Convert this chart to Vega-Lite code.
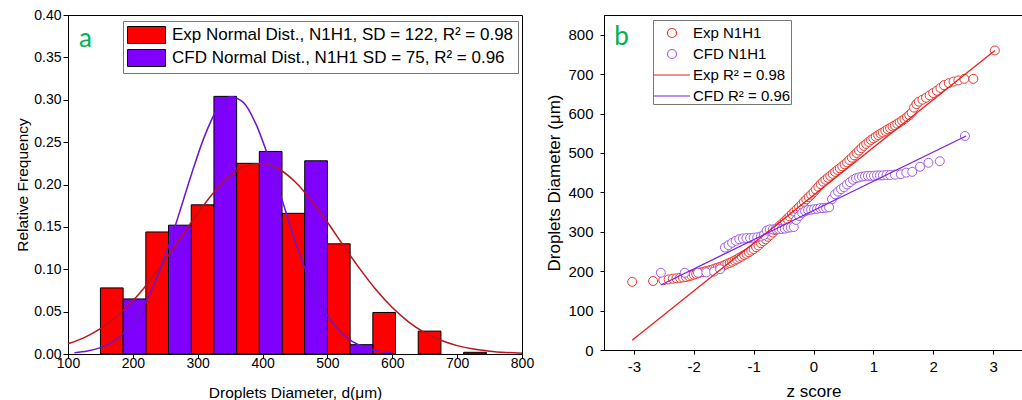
{
  "$schema": "https://vega.github.io/schema/vega-lite/v6.json",
  "background": "white",
  "padding": {"left": 15, "top": 7, "right": 3, "bottom": 0},
  "bounds": "full",
  "spacing": 10,
  "config": {
    "font": "Liberation Sans",
    "view": {"stroke": "black", "strokeWidth": 1},
    "scale": {"continuousPadding": 0},
    "axis": {
      "domainColor": "black", "tickColor": "black", "labelColor": "black", "titleColor": "black",
      "grid": false, "labelFont": "Liberation Sans", "titleFont": "Liberation Sans",
      "titleFontWeight": "normal", "labelFontSize": 14, "titleFontSize": 15.5,
      "labelOverlap": false, "labelFlush": false, "tickWidth": 1, "domainWidth": 1
    },
    "legend": {"labelFont": "Liberation Sans", "labelColor": "black"}
  },
  "hconcat": [
    {
      "width": 454,
      "height": 339,
      "layer": [
        {
          "data": {"values": [
            {"series": "Exp Normal Dist., N1H1, SD = 122, R² = 0.98", "lo": 150, "hi": 185, "freq": 0.078},
            {"series": "Exp Normal Dist., N1H1, SD = 122, R² = 0.98", "lo": 220, "hi": 255, "freq": 0.144},
            {"series": "Exp Normal Dist., N1H1, SD = 122, R² = 0.98", "lo": 290, "hi": 325, "freq": 0.176},
            {"series": "Exp Normal Dist., N1H1, SD = 122, R² = 0.98", "lo": 360, "hi": 395, "freq": 0.225},
            {"series": "Exp Normal Dist., N1H1, SD = 122, R² = 0.98", "lo": 430, "hi": 465, "freq": 0.166},
            {"series": "Exp Normal Dist., N1H1, SD = 122, R² = 0.98", "lo": 500, "hi": 535, "freq": 0.130},
            {"series": "Exp Normal Dist., N1H1, SD = 122, R² = 0.98", "lo": 570, "hi": 605, "freq": 0.049},
            {"series": "Exp Normal Dist., N1H1, SD = 122, R² = 0.98", "lo": 640, "hi": 675, "freq": 0.027},
            {"series": "Exp Normal Dist., N1H1, SD = 122, R² = 0.98", "lo": 710, "hi": 745, "freq": 0.002},
            {"series": "CFD Normal Dist., N1H1 SD = 75, R² = 0.96", "lo": 185, "hi": 220, "freq": 0.065},
            {"series": "CFD Normal Dist., N1H1 SD = 75, R² = 0.96", "lo": 255, "hi": 290, "freq": 0.152},
            {"series": "CFD Normal Dist., N1H1 SD = 75, R² = 0.96", "lo": 325, "hi": 360, "freq": 0.304},
            {"series": "CFD Normal Dist., N1H1 SD = 75, R² = 0.96", "lo": 395, "hi": 430, "freq": 0.239},
            {"series": "CFD Normal Dist., N1H1 SD = 75, R² = 0.96", "lo": 465, "hi": 500, "freq": 0.228},
            {"series": "CFD Normal Dist., N1H1 SD = 75, R² = 0.96", "lo": 535, "hi": 570, "freq": 0.011}
          ]},
          "mark": {"type": "bar", "stroke": "black", "strokeWidth": 1},
          "encoding": {
            "x": {
              "field": "lo", "type": "quantitative",
              "scale": {"domain": [100, 800], "nice": false, "zero": false, "padding": 0},
              "axis": {
                "title": "Droplets Diameter, d(μm)",
                "values": [100, 150, 200, 250, 300, 350, 400, 450, 500, 550, 600, 650, 700, 750, 800],
                "labelExpr": "datum.value % 100 == 0 ? datum.label : ''",
                "tickSize": {"condition": {"test": "datum.value % 100 != 0", "value": 3}, "value": 4},
                "labelPadding": -2, "titlePadding": 15
              }
            },
            "x2": {"field": "hi"},
            "y": {
              "field": "freq", "type": "quantitative",
              "scale": {"domain": [0, 0.4], "nice": false, "padding": 0},
              "axis": {
                "title": "Relative Frequency",
                "values": [0, 0.025, 0.05, 0.075, 0.1, 0.125, 0.15, 0.175, 0.2, 0.225, 0.25, 0.275, 0.3, 0.325, 0.35, 0.375, 0.4],
                "labelExpr": "round(datum.value * 1000) % 50 == 0 ? format(datum.value, '.2f') : ''",
                "tickSize": {"condition": {"test": "round(datum.value * 1000) % 50 != 0", "value": 3}, "value": 5},
                "labelPadding": 2, "titlePadding": 3
              }
            },
            "y2": {"datum": 0},
            "fill": {
              "field": "series", "type": "nominal",
              "scale": {
                "domain": ["Exp Normal Dist., N1H1, SD = 122, R² = 0.98", "CFD Normal Dist., N1H1 SD = 75, R² = 0.96"],
                "range": ["#FF0000", "#7F00FF"]
              },
              "legend": {
                "title": null, "orient": "none", "legendX": 55, "legendY": 6,
                "strokeColor": "#777777", "fillColor": "white", "padding": 4,
                "symbolType": "M-1,-0.894H3V0.894H-1Z", "symbolSize": 361,
                "symbolStrokeColor": "black", "symbolStrokeWidth": 1, "symbolOpacity": 1,
                "labelFontSize": 17, "labelOffset": 25, "rowPadding": 1, "labelLimit": 500
              }
            }
          }
        },
        {
          "data": {"values": [
            {"c": "exp", "x": 100, "f": 0.0121}, {"c": "exp", "x": 125, "f": 0.0194}, {"c": "exp", "x": 150, "f": 0.0300},
            {"c": "exp", "x": 175, "f": 0.0443}, {"c": "exp", "x": 200, "f": 0.0627}, {"c": "exp", "x": 225, "f": 0.0852},
            {"c": "exp", "x": 250, "f": 0.1110}, {"c": "exp", "x": 275, "f": 0.1387}, {"c": "exp", "x": 300, "f": 0.1661},
            {"c": "exp", "x": 325, "f": 0.1908}, {"c": "exp", "x": 350, "f": 0.2102}, {"c": "exp", "x": 375, "f": 0.2220},
            {"c": "exp", "x": 400, "f": 0.2248}, {"c": "exp", "x": 425, "f": 0.2183}, {"c": "exp", "x": 450, "f": 0.2033},
            {"c": "exp", "x": 475, "f": 0.1815}, {"c": "exp", "x": 500, "f": 0.1554}, {"c": "exp", "x": 525, "f": 0.1275},
            {"c": "exp", "x": 550, "f": 0.1004}, {"c": "exp", "x": 575, "f": 0.0758}, {"c": "exp", "x": 600, "f": 0.0548},
            {"c": "exp", "x": 625, "f": 0.0380}, {"c": "exp", "x": 650, "f": 0.0253}, {"c": "exp", "x": 675, "f": 0.0162},
            {"c": "exp", "x": 700, "f": 0.0099}, {"c": "exp", "x": 725, "f": 0.0058}, {"c": "exp", "x": 750, "f": 0.0033},
            {"c": "exp", "x": 775, "f": 0.0018}, {"c": "exp", "x": 800, "f": 0.0009},
            {"c": "cfd", "x": 110, "f": 0.0015}, {"c": "cfd", "x": 130, "f": 0.0035}, {"c": "cfd", "x": 150, "f": 0.0075},
            {"c": "cfd", "x": 170, "f": 0.0150}, {"c": "cfd", "x": 190, "f": 0.0278}, {"c": "cfd", "x": 210, "f": 0.0481},
            {"c": "cfd", "x": 230, "f": 0.0775}, {"c": "cfd", "x": 250, "f": 0.1163}, {"c": "cfd", "x": 270, "f": 0.1624},
            {"c": "cfd", "x": 290, "f": 0.2112}, {"c": "cfd", "x": 310, "f": 0.2559}, {"c": "cfd", "x": 330, "f": 0.2888},
            {"c": "cfd", "x": 350, "f": 0.3036}, {"c": "cfd", "x": 370, "f": 0.2972}, {"c": "cfd", "x": 390, "f": 0.2709},
            {"c": "cfd", "x": 410, "f": 0.2300}, {"c": "cfd", "x": 430, "f": 0.1819}, {"c": "cfd", "x": 450, "f": 0.1340},
            {"c": "cfd", "x": 470, "f": 0.0919}, {"c": "cfd", "x": 490, "f": 0.0587}, {"c": "cfd", "x": 510, "f": 0.0350},
            {"c": "cfd", "x": 530, "f": 0.0194}, {"c": "cfd", "x": 550, "f": 0.0100}, {"c": "cfd", "x": 570, "f": 0.0048},
            {"c": "cfd", "x": 590, "f": 0.0022}, {"c": "cfd", "x": 600, "f": 0.0014}
          ]},
          "mark": {"type": "line", "strokeWidth": 1.5, "interpolate": "monotone"},
          "encoding": {
            "x": {"field": "x", "type": "quantitative"},
            "y": {"field": "f", "type": "quantitative"},
            "detail": {"field": "c", "type": "nominal"},
            "stroke": {
              "field": "c", "type": "nominal",
              "scale": {"domain": ["exp", "cfd"], "range": ["#B8141C", "#6A14D6"]},
              "legend": null
            }
          }
        },
        {
          "data": {"values": [{}]},
          "mark": {"type": "text", "text": "a", "font": "Lato", "fontSize": 26, "color": "#00B050", "align": "left", "baseline": "alphabetic"},
          "encoding": {"x": {"datum": 117}, "y": {"datum": 0.362}}
        }
      ],
      "resolve": {"scale": {"fill": "independent", "stroke": "independent"}}
    },
    {
      "width": 419,
      "height": 335,
      "layer": [
        {
          "data": {"values": [
            {"series": "Exp N1H1", "z": -3.03, "d": 173}, {"series": "Exp N1H1", "z": -2.68, "d": 175},
            {"series": "Exp N1H1", "z": -2.51, "d": 177}, {"series": "Exp N1H1", "z": -2.42, "d": 179},
            {"series": "Exp N1H1", "z": -2.35, "d": 181}, {"series": "Exp N1H1", "z": -2.29, "d": 182},
            {"series": "Exp N1H1", "z": -2.23, "d": 183}, {"series": "Exp N1H1", "z": -2.18, "d": 184},
            {"series": "Exp N1H1", "z": -2.13, "d": 185}, {"series": "Exp N1H1", "z": -2.08, "d": 187},
            {"series": "Exp N1H1", "z": -2.04, "d": 189}, {"series": "Exp N1H1", "z": -2.00, "d": 191},
            {"series": "Exp N1H1", "z": -1.96, "d": 193}, {"series": "Exp N1H1", "z": -1.92, "d": 195},
            {"series": "Exp N1H1", "z": -1.88, "d": 197}, {"series": "Exp N1H1", "z": -1.84, "d": 198},
            {"series": "Exp N1H1", "z": -1.80, "d": 200}, {"series": "Exp N1H1", "z": -1.76, "d": 201},
            {"series": "Exp N1H1", "z": -1.72, "d": 203}, {"series": "Exp N1H1", "z": -1.68, "d": 205},
            {"series": "Exp N1H1", "z": -1.64, "d": 207}, {"series": "Exp N1H1", "z": -1.60, "d": 209},
            {"series": "Exp N1H1", "z": -1.56, "d": 211}, {"series": "Exp N1H1", "z": -1.52, "d": 213},
            {"series": "Exp N1H1", "z": -1.48, "d": 216}, {"series": "Exp N1H1", "z": -1.44, "d": 219},
            {"series": "Exp N1H1", "z": -1.40, "d": 221}, {"series": "Exp N1H1", "z": -1.36, "d": 224},
            {"series": "Exp N1H1", "z": -1.32, "d": 227}, {"series": "Exp N1H1", "z": -1.28, "d": 230},
            {"series": "Exp N1H1", "z": -1.24, "d": 234}, {"series": "Exp N1H1", "z": -1.20, "d": 237},
            {"series": "Exp N1H1", "z": -1.16, "d": 241}, {"series": "Exp N1H1", "z": -1.12, "d": 244},
            {"series": "Exp N1H1", "z": -1.08, "d": 248}, {"series": "Exp N1H1", "z": -1.04, "d": 252},
            {"series": "Exp N1H1", "z": -1.00, "d": 256}, {"series": "Exp N1H1", "z": -0.96, "d": 261},
            {"series": "Exp N1H1", "z": -0.92, "d": 265}, {"series": "Exp N1H1", "z": -0.88, "d": 271},
            {"series": "Exp N1H1", "z": -0.84, "d": 276}, {"series": "Exp N1H1", "z": -0.80, "d": 281},
            {"series": "Exp N1H1", "z": -0.76, "d": 287}, {"series": "Exp N1H1", "z": -0.72, "d": 292},
            {"series": "Exp N1H1", "z": -0.68, "d": 298}, {"series": "Exp N1H1", "z": -0.64, "d": 304},
            {"series": "Exp N1H1", "z": -0.60, "d": 310}, {"series": "Exp N1H1", "z": -0.56, "d": 316},
            {"series": "Exp N1H1", "z": -0.52, "d": 321}, {"series": "Exp N1H1", "z": -0.48, "d": 327},
            {"series": "Exp N1H1", "z": -0.44, "d": 333}, {"series": "Exp N1H1", "z": -0.40, "d": 339},
            {"series": "Exp N1H1", "z": -0.36, "d": 345}, {"series": "Exp N1H1", "z": -0.32, "d": 351},
            {"series": "Exp N1H1", "z": -0.28, "d": 357}, {"series": "Exp N1H1", "z": -0.24, "d": 363},
            {"series": "Exp N1H1", "z": -0.20, "d": 369}, {"series": "Exp N1H1", "z": -0.16, "d": 376},
            {"series": "Exp N1H1", "z": -0.12, "d": 382}, {"series": "Exp N1H1", "z": -0.08, "d": 388},
            {"series": "Exp N1H1", "z": -0.04, "d": 394}, {"series": "Exp N1H1", "z": 0.00, "d": 400},
            {"series": "Exp N1H1", "z": 0.04, "d": 407}, {"series": "Exp N1H1", "z": 0.08, "d": 414},
            {"series": "Exp N1H1", "z": 0.12, "d": 421}, {"series": "Exp N1H1", "z": 0.16, "d": 427},
            {"series": "Exp N1H1", "z": 0.20, "d": 432}, {"series": "Exp N1H1", "z": 0.24, "d": 437},
            {"series": "Exp N1H1", "z": 0.28, "d": 442}, {"series": "Exp N1H1", "z": 0.32, "d": 447},
            {"series": "Exp N1H1", "z": 0.36, "d": 452}, {"series": "Exp N1H1", "z": 0.40, "d": 457},
            {"series": "Exp N1H1", "z": 0.44, "d": 461}, {"series": "Exp N1H1", "z": 0.48, "d": 466},
            {"series": "Exp N1H1", "z": 0.52, "d": 471}, {"series": "Exp N1H1", "z": 0.56, "d": 476},
            {"series": "Exp N1H1", "z": 0.60, "d": 482}, {"series": "Exp N1H1", "z": 0.64, "d": 488},
            {"series": "Exp N1H1", "z": 0.68, "d": 494}, {"series": "Exp N1H1", "z": 0.72, "d": 500},
            {"series": "Exp N1H1", "z": 0.76, "d": 506}, {"series": "Exp N1H1", "z": 0.80, "d": 512},
            {"series": "Exp N1H1", "z": 0.84, "d": 518}, {"series": "Exp N1H1", "z": 0.88, "d": 523},
            {"series": "Exp N1H1", "z": 0.92, "d": 528}, {"series": "Exp N1H1", "z": 0.96, "d": 533},
            {"series": "Exp N1H1", "z": 1.00, "d": 537}, {"series": "Exp N1H1", "z": 1.04, "d": 541},
            {"series": "Exp N1H1", "z": 1.08, "d": 545}, {"series": "Exp N1H1", "z": 1.12, "d": 549},
            {"series": "Exp N1H1", "z": 1.16, "d": 552}, {"series": "Exp N1H1", "z": 1.20, "d": 556},
            {"series": "Exp N1H1", "z": 1.24, "d": 560}, {"series": "Exp N1H1", "z": 1.28, "d": 563},
            {"series": "Exp N1H1", "z": 1.32, "d": 567}, {"series": "Exp N1H1", "z": 1.36, "d": 570},
            {"series": "Exp N1H1", "z": 1.40, "d": 574}, {"series": "Exp N1H1", "z": 1.44, "d": 578},
            {"series": "Exp N1H1", "z": 1.48, "d": 582}, {"series": "Exp N1H1", "z": 1.52, "d": 586},
            {"series": "Exp N1H1", "z": 1.56, "d": 591}, {"series": "Exp N1H1", "z": 1.60, "d": 596},
            {"series": "Exp N1H1", "z": 1.64, "d": 602}, {"series": "Exp N1H1", "z": 1.68, "d": 615},
            {"series": "Exp N1H1", "z": 1.72, "d": 624}, {"series": "Exp N1H1", "z": 1.76, "d": 630},
            {"series": "Exp N1H1", "z": 1.82, "d": 635}, {"series": "Exp N1H1", "z": 1.88, "d": 640},
            {"series": "Exp N1H1", "z": 1.94, "d": 646}, {"series": "Exp N1H1", "z": 2.00, "d": 652},
            {"series": "Exp N1H1", "z": 2.06, "d": 658}, {"series": "Exp N1H1", "z": 2.12, "d": 665},
            {"series": "Exp N1H1", "z": 2.18, "d": 672}, {"series": "Exp N1H1", "z": 2.26, "d": 677},
            {"series": "Exp N1H1", "z": 2.34, "d": 681}, {"series": "Exp N1H1", "z": 2.42, "d": 684},
            {"series": "Exp N1H1", "z": 2.52, "d": 688}, {"series": "Exp N1H1", "z": 2.67, "d": 688},
            {"series": "Exp N1H1", "z": 3.03, "d": 760},
            {"series": "CFD N1H1", "z": -2.55, "d": 196}, {"series": "CFD N1H1", "z": -2.15, "d": 196},
            {"series": "CFD N1H1", "z": -1.93, "d": 196}, {"series": "CFD N1H1", "z": -1.79, "d": 197},
            {"series": "CFD N1H1", "z": -1.66, "d": 199}, {"series": "CFD N1H1", "z": -1.56, "d": 205},
            {"series": "CFD N1H1", "z": -1.48, "d": 260}, {"series": "CFD N1H1", "z": -1.42, "d": 266},
            {"series": "CFD N1H1", "z": -1.36, "d": 272}, {"series": "CFD N1H1", "z": -1.30, "d": 277},
            {"series": "CFD N1H1", "z": -1.24, "d": 281}, {"series": "CFD N1H1", "z": -1.18, "d": 283},
            {"series": "CFD N1H1", "z": -1.12, "d": 284}, {"series": "CFD N1H1", "z": -1.06, "d": 284},
            {"series": "CFD N1H1", "z": -1.00, "d": 285}, {"series": "CFD N1H1", "z": -0.94, "d": 286},
            {"series": "CFD N1H1", "z": -0.88, "d": 288}, {"series": "CFD N1H1", "z": -0.83, "d": 292},
            {"series": "CFD N1H1", "z": -0.78, "d": 303}, {"series": "CFD N1H1", "z": -0.73, "d": 306},
            {"series": "CFD N1H1", "z": -0.68, "d": 306}, {"series": "CFD N1H1", "z": -0.63, "d": 307},
            {"series": "CFD N1H1", "z": -0.58, "d": 307}, {"series": "CFD N1H1", "z": -0.53, "d": 307},
            {"series": "CFD N1H1", "z": -0.48, "d": 308}, {"series": "CFD N1H1", "z": -0.43, "d": 310},
            {"series": "CFD N1H1", "z": -0.38, "d": 311}, {"series": "CFD N1H1", "z": -0.33, "d": 312},
            {"series": "CFD N1H1", "z": -0.29, "d": 330}, {"series": "CFD N1H1", "z": -0.24, "d": 340},
            {"series": "CFD N1H1", "z": -0.19, "d": 348}, {"series": "CFD N1H1", "z": -0.14, "d": 352},
            {"series": "CFD N1H1", "z": -0.09, "d": 355}, {"series": "CFD N1H1", "z": -0.04, "d": 356},
            {"series": "CFD N1H1", "z": 0.01, "d": 357}, {"series": "CFD N1H1", "z": 0.06, "d": 358},
            {"series": "CFD N1H1", "z": 0.11, "d": 360}, {"series": "CFD N1H1", "z": 0.16, "d": 360},
            {"series": "CFD N1H1", "z": 0.21, "d": 361}, {"series": "CFD N1H1", "z": 0.26, "d": 362},
            {"series": "CFD N1H1", "z": 0.31, "d": 383}, {"series": "CFD N1H1", "z": 0.36, "d": 395},
            {"series": "CFD N1H1", "z": 0.41, "d": 402}, {"series": "CFD N1H1", "z": 0.46, "d": 408},
            {"series": "CFD N1H1", "z": 0.51, "d": 413}, {"series": "CFD N1H1", "z": 0.56, "d": 420},
            {"series": "CFD N1H1", "z": 0.61, "d": 426}, {"series": "CFD N1H1", "z": 0.66, "d": 432},
            {"series": "CFD N1H1", "z": 0.71, "d": 436}, {"series": "CFD N1H1", "z": 0.76, "d": 438},
            {"series": "CFD N1H1", "z": 0.81, "d": 440}, {"series": "CFD N1H1", "z": 0.86, "d": 441},
            {"series": "CFD N1H1", "z": 0.91, "d": 442}, {"series": "CFD N1H1", "z": 0.96, "d": 442},
            {"series": "CFD N1H1", "z": 1.01, "d": 442}, {"series": "CFD N1H1", "z": 1.06, "d": 443},
            {"series": "CFD N1H1", "z": 1.11, "d": 443}, {"series": "CFD N1H1", "z": 1.16, "d": 443},
            {"series": "CFD N1H1", "z": 1.22, "d": 444}, {"series": "CFD N1H1", "z": 1.28, "d": 444},
            {"series": "CFD N1H1", "z": 1.36, "d": 445}, {"series": "CFD N1H1", "z": 1.46, "d": 446},
            {"series": "CFD N1H1", "z": 1.55, "d": 450}, {"series": "CFD N1H1", "z": 1.65, "d": 452},
            {"series": "CFD N1H1", "z": 1.78, "d": 465}, {"series": "CFD N1H1", "z": 1.92, "d": 475},
            {"series": "CFD N1H1", "z": 2.11, "d": 479}, {"series": "CFD N1H1", "z": 2.53, "d": 543}
          ]},
          "mark": {"type": "point", "filled": true, "fill": "white", "strokeWidth": 1, "opacity": 1, "size": 576},
          "encoding": {
            "x": {
              "field": "z", "type": "quantitative",
              "scale": {"domain": [-3.5, 3.5], "nice": false, "zero": false},
              "axis": {
                "title": "z score",
                "values": [-3, -2.5, -2, -1.5, -1, -0.5, 0, 0.5, 1, 1.5, 2, 2.5, 3],
                "labelExpr": "datum.value % 1 == 0 ? '' + datum.value : ''",
                "tickSize": {"condition": {"test": "datum.value % 1 != 0", "value": 3}, "value": 4},
                "labelPadding": 5, "titlePadding": 9, "labelFontSize": 15, "titleFontSize": 17
              }
            },
            "y": {
              "field": "d", "type": "quantitative",
              "scale": {"domain": [0, 850], "nice": false},
              "axis": {
                "title": "Droplets Diameter (μm)",
                "values": [0, 50, 100, 150, 200, 250, 300, 350, 400, 450, 500, 550, 600, 650, 700, 750, 800, 850],
                "labelExpr": "datum.value % 100 == 0 ? '' + datum.value : ''",
                "tickSize": {"condition": {"test": "datum.value % 100 != 0", "value": 3}, "value": 4},
                "labelPadding": 7, "titlePadding": 4, "labelFontSize": 15, "titleFontSize": 17
              }
            },
            "stroke": {
              "field": "series", "type": "nominal",
              "scale": {
                "domain": ["Exp N1H1", "CFD N1H1", "Exp R² = 0.98", "CFD R² = 0.96"],
                "range": ["#E8372F", "#A15CE8", "#E8201C", "#7A1EE0"]
              },
              "legend": {
                "title": null, "orient": "none", "legendX": 585, "legendY": 5,
                "strokeColor": "#777777", "fillColor": "white", "padding": 0,
                "symbolSize": 576, "symbolOffset": 6, "labelFontSize": 15, "labelOffset": 8, "rowPadding": -7,
                "symbolStrokeWidth": 1.2, "symbolFillColor": "white"
              }
            },
            "shape": {
              "field": "series", "type": "nominal",
              "scale": {
                "domain": ["Exp N1H1", "CFD N1H1", "Exp R² = 0.98", "CFD R² = 0.96"],
                "range": [
                  "M0.375,0A0.375,0.375,0,1,1,-0.375,0A0.375,0.375,0,1,1,0.375,0Z",
                  "M0.375,0A0.375,0.375,0,1,1,-0.375,0A0.375,0.375,0,1,1,0.375,0Z",
                  "M-1.5,0H1.5",
                  "M-1.5,0H1.5"
                ]
              }
            }
          }
        },
        {
          "data": {"values": [
            {"series": "Exp R² = 0.98", "z": -3.03, "d": 25},
            {"series": "Exp R² = 0.98", "z": 3.03, "d": 760},
            {"series": "CFD R² = 0.96", "z": -2.55, "d": 165},
            {"series": "CFD R² = 0.96", "z": 2.55, "d": 543}
          ]},
          "mark": {"type": "line", "strokeWidth": 1.3},
          "encoding": {
            "x": {"field": "z", "type": "quantitative"},
            "y": {"field": "d", "type": "quantitative"},
            "stroke": {"field": "series", "type": "nominal"}
          }
        },
        {
          "data": {"values": [{}]},
          "mark": {"type": "text", "text": "b", "font": "Lato", "fontSize": 26, "color": "#00B050", "align": "left", "baseline": "alphabetic"},
          "encoding": {"x": {"datum": -3.33}, "y": {"datum": 775}}
        }
      ]
    }
  ]
}
